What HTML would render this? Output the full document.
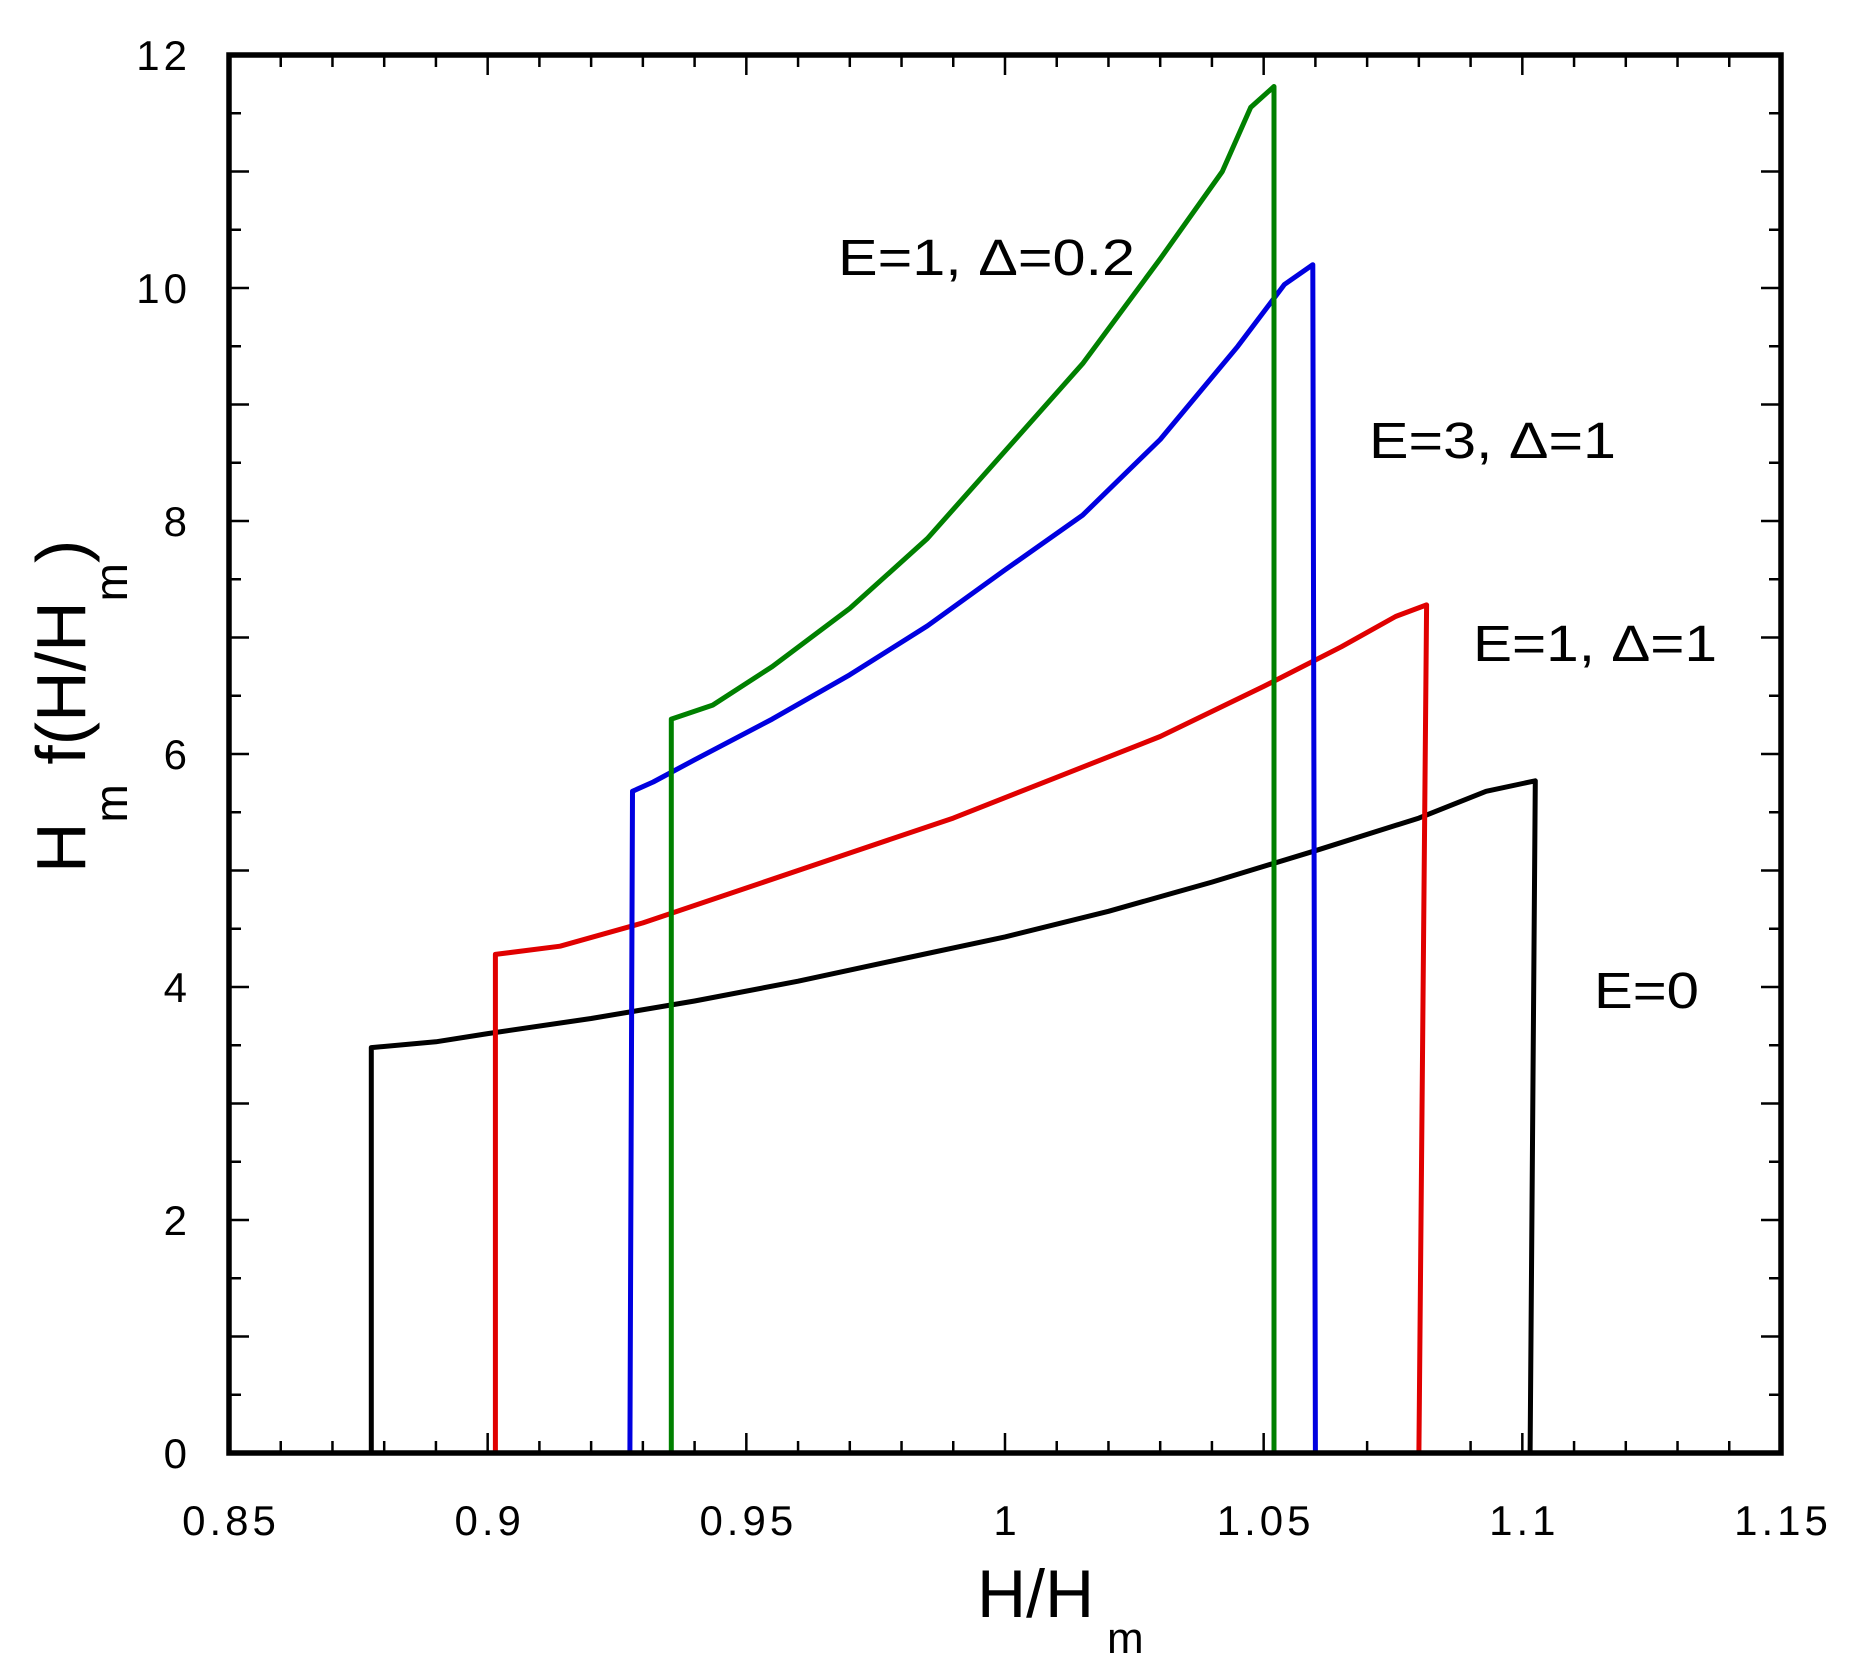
<!DOCTYPE html>
<html><head><meta charset="utf-8"><style>html,body{margin:0;padding:0;background:#fff}svg{display:block}</style></head>
<body>
<svg width="1853" height="1672" viewBox="0 0 1853 1672" xmlns="http://www.w3.org/2000/svg" font-family="Liberation Sans, Arial, sans-serif">
<g id="ticks" stroke="#000" stroke-width="2.5"></g>
<g id="curves" fill="none" stroke-width="5" stroke-linejoin="round"></g>
<rect x="229" y="55" width="1552" height="1398" fill="none" stroke="#000" stroke-width="5.5"/>
<g id="labels" font-size="42" fill="#000" letter-spacing="4"></g>
<text x="977" y="1617" font-size="68">H/H</text>
<text x="1107" y="1653" font-size="44">m</text>
<text transform="translate(85,873) rotate(-90)" font-size="70">H<tspan font-size="46" dy="42">m</tspan><tspan dy="-42"> f(H/H</tspan><tspan font-size="46" dy="42">m</tspan><tspan dy="-42">)</tspan></text>
<g font-size="51" fill="#000">
<text x="838" y="275" textLength="297" lengthAdjust="spacingAndGlyphs">E=1, Δ=0.2</text>
<text x="1369" y="458" textLength="247" lengthAdjust="spacingAndGlyphs">E=3, Δ=1</text>
<text x="1473" y="661" textLength="244" lengthAdjust="spacingAndGlyphs">E=1, Δ=1</text>
<text x="1594" y="1008" textLength="105" lengthAdjust="spacingAndGlyphs">E=0</text>
</g>
<script>
var X=function(v){return 229+(v-0.85)*5173.3};
var Y=function(v){return 1453-v*116.5};
var ns="http://www.w3.org/2000/svg";
var t=document.getElementById('ticks'),L=document.getElementById('labels'),C=document.getElementById('curves');
function line(x1,y1,x2,y2){var l=document.createElementNS(ns,'line');l.setAttribute('x1',x1);l.setAttribute('y1',y1);l.setAttribute('x2',x2);l.setAttribute('y2',y2);t.appendChild(l);}
for(var i=0;i<=30;i++){var x=X(0.85+i*0.01),len=(i%5==0)?20:12;line(x,1453,x,1453-len);line(x,55,x,55+len);}
for(var i=0;i<=24;i++){var y=Y(i*0.5),len=(i%2==0)?20:12;line(229,y,229+len,y);line(1781,y,1781-len,y);}
var xl=["0.85","0.9","0.95","1","1.05","1.1","1.15"];
xl.forEach(function(s,i){var e=document.createElementNS(ns,'text');e.setAttribute('x',X(0.85+i*0.05)+2);e.setAttribute('y',1535);e.setAttribute('text-anchor','middle');e.textContent=s;L.appendChild(e);});
for(var i=0;i<=12;i+=2){var e=document.createElementNS(ns,'text');e.setAttribute('x',191);e.setAttribute('y',Y(i)+15);e.setAttribute('text-anchor','end');e.textContent=i;L.appendChild(e);}
var S=[
["#000",[[0.8775,0],[0.8775,3.48],[0.89,3.53],[0.9,3.6],[0.92,3.73],[0.94,3.88],[0.96,4.05],[0.98,4.24],[1.0,4.43],[1.02,4.65],[1.04,4.9],[1.06,5.17],[1.08,5.45],[1.093,5.68],[1.1025,5.77],[1.1015,0]]],
["#e00000",[[0.9015,0],[0.9015,4.28],[0.914,4.35],[0.93,4.55],[0.95,4.85],[0.97,5.15],[0.99,5.45],[1.01,5.8],[1.03,6.15],[1.05,6.58],[1.065,6.92],[1.0755,7.18],[1.0815,7.28],[1.08,0]]],
["#0000e0",[[0.9275,0],[0.928,5.68],[0.932,5.76],[0.94,5.95],[0.955,6.3],[0.97,6.68],[0.985,7.1],[1.0,7.58],[1.015,8.05],[1.03,8.7],[1.045,9.5],[1.054,10.03],[1.0595,10.2],[1.06,0]]],
["#008000",[[0.9355,0],[0.9355,6.3],[0.9435,6.42],[0.955,6.75],[0.97,7.25],[0.985,7.85],[1.0,8.6],[1.015,9.35],[1.03,10.25],[1.042,11.0],[1.0475,11.55],[1.052,11.73],[1.052,0]]]
];
S.forEach(function(s){var p=document.createElementNS(ns,'polyline');p.setAttribute('stroke',s[0]);p.setAttribute('points',s[1].map(function(q){return X(q[0]).toFixed(1)+','+Y(q[1]).toFixed(1)}).join(' '));C.appendChild(p);});
</script>
</svg>
</body></html>
